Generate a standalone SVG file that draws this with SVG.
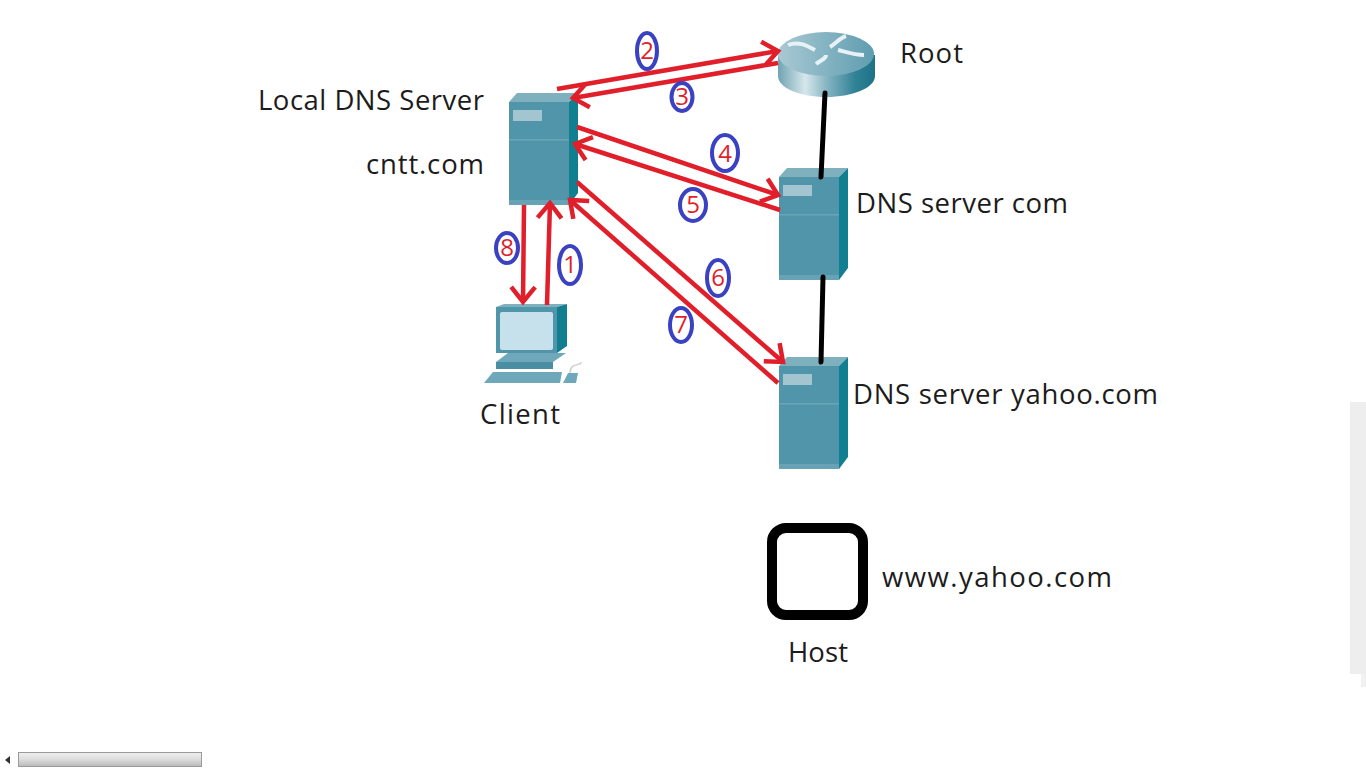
<svg xmlns="http://www.w3.org/2000/svg" xmlns:xlink="http://www.w3.org/1999/xlink" width="1366" height="768" viewBox="0 0 1366 768">
<style>
.lbl{font-family:"Open Sans","Noto Sans",sans-serif;font-size:27.500px;fill:#1c1c1c}
.num{font-family:"Open Sans","Noto Sans",sans-serif;font-size:24px;fill:#e01f2b;text-anchor:middle}
.ring{fill:none;stroke:#3b42c2;stroke-width:4}
.arrow{fill:none;stroke:#e01f2b;stroke-width:4.500;marker-end:url(#chev)}
.wire{fill:none;stroke:#000;stroke-width:5;stroke-linecap:round}
</style>
<defs>
<marker id="chev" markerUnits="userSpaceOnUse" markerWidth="30" markerHeight="30" refX="19" refY="15" orient="auto">
<path d="M4 3 L19 15 L4 27" fill="none" stroke="#e01f2b" stroke-width="4.500"/>
</marker>
<linearGradient id="cyl" x1="0" y1="0" x2="1" y2="0">
<stop offset="0" stop-color="#6fa3b3"/><stop offset=".28" stop-color="#d6e7eb"/><stop offset=".5" stop-color="#86b5c3"/><stop offset=".8" stop-color="#2f8196"/><stop offset="1" stop-color="#1f7286"/>
</linearGradient>
<linearGradient id="topg" x1="0" y1="0" x2="1" y2="0">
<stop offset="0" stop-color="#a9c9d3"/><stop offset="1" stop-color="#5f9db0"/>
</linearGradient>
<linearGradient id="thumb" x1="0" y1="0" x2="0" y2="1">
<stop offset="0" stop-color="#f0f0f0"/><stop offset=".5" stop-color="#dcdcdc"/><stop offset="1" stop-color="#b9b9b9"/>
</linearGradient>
<g id="srv">
<path d="M0 9 L8 0 H69 L60 9Z" fill="#7fb0be"/>
<path d="M60 9 L69 0 V100 L60 112Z" fill="#127f90"/>
<rect x="0" y="9" width="60" height="103" fill="#5195ab"/>
<rect x="0" y="46" width="60" height="1.500" fill="#6aa5b7"/>
<rect x="0" y="107" width="60" height="5" fill="#68a2b5"/>
<rect x="4" y="17" width="29" height="11" fill="#a2c5d0"/>
</g>
</defs>
<rect width="1366" height="768" fill="#fff"/>
<g id="scrollbars">
<rect x="1350" y="402" width="16" height="272" fill="#eeeeee"/>
<rect x="1361" y="674" width="5" height="13" fill="#f1f1f1"/>
<rect x="18.500" y="752.500" width="183" height="14" fill="url(#thumb)" stroke="#9a9a9a"/>
<path d="M10 756 L5 760 L10 764Z" fill="#333"/>
</g>
<g id="node-root">
<path d="M778 55 V76 C778 88 800 97 826 97 C852 97 875 88 875 76 V55Z" fill="url(#cyl)"/>
<ellipse cx="826" cy="54" rx="48" ry="22" fill="url(#topg)"/>
<path d="M788 45 C798 41 806 45 815 50 M864 55 C854 55 846 52 838 50 M846 36 C840 38 836 43 830 47 M816 64 C821 60 826 59 826 55" fill="none" stroke="#e6f2f5" stroke-width="4"/>
<text class="lbl" x="900" y="63" textLength="63">Root</text>
</g>
<g id="node-local-dns">
<use href="#srv" x="509" y="93"/>
<text class="lbl" x="258" y="110" textLength="226">Local DNS Server</text>
<text class="lbl" x="366" y="174" textLength="118">cntt.com</text>
</g>
<g id="node-dns-com">
<use href="#srv" x="779" y="168"/>
<text class="lbl" x="856" y="213" textLength="212">DNS server com</text>
</g>
<g id="node-dns-yahoo">
<use href="#srv" x="779" y="357"/>
<text class="lbl" x="853" y="404" textLength="305">DNS server yahoo.com</text>
</g>
<g id="node-client">
<path d="M496 307 L504 304 H567 L557 307Z" fill="#7fb0be"/>
<path d="M557 307 L567 304 V346 L557 353Z" fill="#127f90"/>
<rect x="496" y="307" width="61" height="46" fill="#5195ab"/>
<rect x="500" y="312" width="53" height="38" rx="2" fill="#c6e0ec"/>
<path d="M496 362 H553 L566 353 H508Z" fill="#6ea8ba"/>
<path d="M496 362 H553 V369 H496Z" fill="#4a8ea4"/>
<path d="M484 383 H560 L562 372 H493Z" fill="#6fa8ba"/>
<path d="M563 383 H576 L578 373 H568Z" fill="#6fa8ba"/>
<path d="M570 373 C570 362 582 366 581 362" fill="none" stroke="#d0d0d0" stroke-width="1.500"/>
<text class="lbl" x="480" y="424" textLength="80">Client</text>
</g>
<g id="node-host">
<rect x="772" y="528" width="91" height="87" rx="14" fill="#fff" stroke="#000" stroke-width="10"/>
<text class="lbl" x="882" y="587" textLength="230">www.yahoo.com</text>
<text class="lbl" x="788" y="662" textLength="60">Host</text>
</g>
<g id="connectors">
<path class="wire" d="M825 93 L821 177"/>
<path class="wire" d="M823 277 L821 362"/>
<path class="arrow" d="M557 89 L778 51"/>
<path class="arrow" d="M778 63 L573 98"/>
<path class="arrow" d="M577 127 L778 195"/>
<path class="arrow" d="M780 210 L575 144"/>
<path class="arrow" d="M577 182 L783 362"/>
<path class="arrow" d="M778 383 L570 200"/>
<path class="arrow" d="M547 305 L550 203"/>
<path class="arrow" d="M524 205 L523 302"/>
</g>
<g id="labels">
<ellipse class="ring" cx="647" cy="51" rx="10" ry="18"/><text class="num" x="647" y="59">2</text>
<ellipse class="ring" cx="682" cy="97" rx="10.500" ry="14"/><text class="num" x="682" y="105">3</text>
<ellipse class="ring" cx="725" cy="153" rx="13" ry="18"/><text class="num" x="725" y="162">4</text>
<ellipse class="ring" cx="693" cy="205" rx="13" ry="16"/><text class="num" x="693" y="213">5</text>
<ellipse class="ring" cx="718" cy="278" rx="11" ry="18"/><text class="num" x="718" y="286">6</text>
<ellipse class="ring" cx="681" cy="325" rx="11" ry="17"/><text class="num" x="681" y="333">7</text>
<ellipse class="ring" cx="507" cy="248" rx="11" ry="15"/><text class="num" x="507" y="256">8</text>
<ellipse class="ring" cx="570" cy="265" rx="11" ry="19"/><text class="num" x="570" y="273">1</text>
</g>
</svg>
